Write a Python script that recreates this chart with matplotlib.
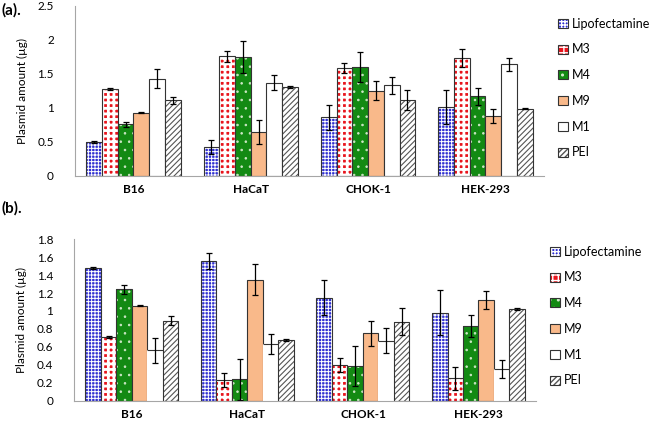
import numpy as np
import matplotlib
matplotlib.use('Agg')
import matplotlib.pyplot as plt
from matplotlib.patches import Rectangle
from matplotlib.legend_handler import HandlerTuple

plt.rcParams['font.family'] = ['Lato', 'DejaVu Sans']

cells = ['B16', 'HaCaT', 'CHOK-1', 'HEK-293']
carriers = ['Lipofectamine', 'M3', 'M4', 'M9', 'M1', 'PEI']

# panel (a)
a_vals = {
    'Lipofectamine': [0.50, 0.43, 0.86, 1.01],
    'M3': [1.28, 1.76, 1.59, 1.73],
    'M4': [0.76, 1.75, 1.60, 1.17],
    'M9': [0.93, 0.65, 1.25, 0.88],
    'M1': [1.43, 1.37, 1.33, 1.64],
    'PEI': [1.11, 1.31, 1.12, 0.99],
}
a_err = {
    'Lipofectamine': [0.02, 0.10, 0.18, 0.25],
    'M3': [0.02, 0.08, 0.07, 0.13],
    'M4': [0.04, 0.23, 0.22, 0.12],
    'M9': [0.01, 0.18, 0.14, 0.10],
    'M1': [0.14, 0.11, 0.13, 0.10],
    'PEI': [0.05, 0.01, 0.15, 0.01],
}

# panel (b)
b_vals = {
    'Lipofectamine': [1.48, 1.56, 1.15, 0.98],
    'M3': [0.71, 0.23, 0.40, 0.25],
    'M4': [1.24, 0.24, 0.39, 0.83],
    'M9': [1.06, 1.35, 0.75, 1.12],
    'M1': [0.56, 0.63, 0.67, 0.35],
    'PEI': [0.89, 0.68, 0.88, 1.02],
}
b_err = {
    'Lipofectamine': [0.01, 0.09, 0.19, 0.25],
    'M3': [0.01, 0.08, 0.08, 0.13],
    'M4': [0.05, 0.23, 0.22, 0.12],
    'M9': [0.01, 0.17, 0.14, 0.10],
    'M1': [0.14, 0.11, 0.14, 0.10],
    'PEI': [0.05, 0.01, 0.15, 0.01],
}

# face, hatch colour, hatch, hatch linewidth
styles = {
    'Lipofectamine': ('#2f2fd0', 'white', '+++++', 0.7),
    'M3': ('#e8141c', 'white', '+++', 2.0),
    'M4': ('#138a13', '#cfe8c8', '..', 0.6),
    'M9': ('#f9b98a', None, '', 1.0),
    'M1': ('white', None, '', 1.0),
    'PEI': ('white', '#555555', '//////', 0.8),
}

fig = plt.figure(figsize=(6.5, 4.21), dpi=100)
ax_a = fig.add_axes([0.115, 0.582, 0.722, 0.404])
ax_b = fig.add_axes([0.114, 0.048, 0.711, 0.384])

width = 0.134
x = np.arange(len(cells))


def draw(ax, vals, errs, ymax, step, m1_edge, leg_y):
    handles = []
    for i, c in enumerate(carriers):
        pos = x + (i - 2.5) * width
        face, hcol, hatch, hlw = styles[c]
        with plt.rc_context({'hatch.linewidth': hlw}):
            if hatch:
                ax.bar(pos, vals[c], width, color=face, edgecolor=hcol,
                       hatch=hatch, linewidth=0)
                lh = Rectangle((0, 0), 1, 1, facecolor=face, edgecolor=hcol,
                               hatch=hatch, linewidth=0)
            else:
                ax.bar(pos, vals[c], width, color=face, linewidth=0)
                lh = Rectangle((0, 0), 1, 1, facecolor=face, linewidth=0)
        if c == 'M1' and not m1_edge:
            # only a top line shows for this series
            ax.hlines(vals[c], pos - width / 2, pos + width / 2, color='#333333', lw=0.8)
        else:
            ax.bar(pos, vals[c], width, fill=False, edgecolor='#333333', linewidth=0.8)
        outline = Rectangle((0, 0), 1, 1, fill=False, edgecolor='#333333', linewidth=0.8)
        ax.errorbar(pos, vals[c], yerr=errs[c], fmt='none', ecolor='black',
                    elinewidth=0.9, capsize=2.2, capthick=0.9)
        handles.append((lh, outline))
    ax.set_xlim(-0.5, len(cells) - 0.5)
    ax.set_ylim(0, ymax)
    ticks = np.round(np.arange(0, ymax + step / 2, step), 2)
    ax.set_yticks(ticks)
    ax.set_yticklabels(['%g' % t for t in ticks], fontsize=8.5)
    ax.set_xticks(x)
    ax.set_xticklabels(cells, fontsize=8.5, fontweight='bold')
    ax.tick_params(length=0, pad=6)
    ax.tick_params(axis='y', pad=15)
    for s in ['top', 'right']:
        ax.spines[s].set_visible(False)
    ax.spines['left'].set_color('#a6a6a6')
    ax.spines['bottom'].set_color('#a6a6a6')
    ax.set_ylabel('Plasmid amount (µg)', fontsize=8.5, labelpad=7)
    ax.legend(handles, carriers, handler_map={tuple: HandlerTuple(ndivide=1)},
              loc='upper left', bbox_to_anchor=(1.02, leg_y),
              frameon=False, fontsize=9, handlelength=0.75, handleheight=0.75,
              handletextpad=0.3, labelspacing=1.1, borderaxespad=0)


draw(ax_a, a_vals, a_err, 2.5, 0.5, True, 0.96)
draw(ax_b, b_vals, b_err, 1.8, 0.2, False, 0.99)

fig.text(0.003, 0.975, '(a).', fontsize=11, fontweight='bold', va='center')
fig.text(0.003, 0.505, '(b).', fontsize=11, fontweight='bold', va='center')

fig.savefig('out.png', dpi=100)
